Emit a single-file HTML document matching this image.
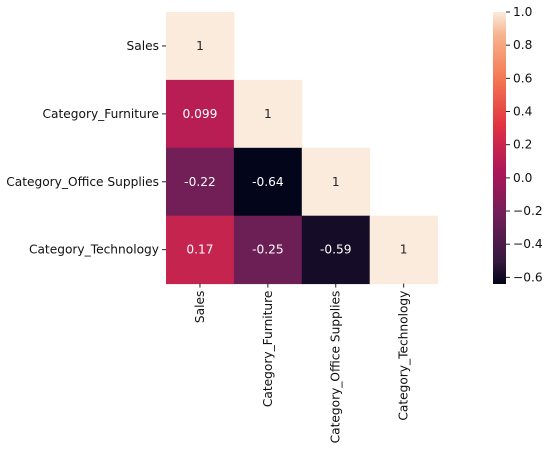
<!DOCTYPE html>
<html><head><meta charset="utf-8"><style>
body{margin:0;background:#fff;}
svg{display:block;font-family:"DejaVu Sans","Liberation Sans",sans-serif;}
</style></head><body>
<svg id="chart" width="549" height="449"></svg>
<script>
const labels=["Sales","Category_Furniture","Category_Office Supplies","Category_Technology"];
const values=[[1],[0.099,1],[-0.22,-0.64,1],[0.17,-0.25,-0.59,1]];
const cbTicks=[1.0,0.8,0.6,0.4,0.2,0.0,-0.2,-0.4,-0.6];
const vmin=-0.64,vmax=1;
const stops=[[0,"#03051a"],[0.083,"#35193e"],[0.25,"#701f57"],[0.417,"#ad1759"],[0.583,"#e13342"],[0.75,"#f37651"],[0.917,"#f6b48f"],[1,"#faebdd"]];
const NS="http://www.w3.org/2000/svg";
const svg=document.getElementById("chart");
const FS="12.2";
function h2r(h){return [1,3,5].map(i=>parseInt(h.substr(i,2),16));}
function cmap(t){t=Math.max(0,Math.min(1,t));for(let i=1;i<stops.length;i++){if(t<=stops[i][0]){const a=stops[i-1],b=stops[i];const f=(t-a[0])/(b[0]-a[0]);const ca=h2r(a[1]),cb=h2r(b[1]);return ca.map((v,k)=>Math.round(v+(cb[k]-v)*f));}}return h2r(stops[stops.length-1][1]);}
function rgb(c){return `rgb(${c[0]},${c[1]},${c[2]})`;}
function el(t,a){const e=document.createElementNS(NS,t);for(const k in a)e.setAttribute(k,a[k]);svg.appendChild(e);return e;}
const x0=166,y0=12,cs=67.9;
const xs=i=>x0+i*cs, ys=i=>y0+i*cs;
values.forEach((row,r)=>row.forEach((v,c)=>{
 const col=cmap((v-vmin)/(vmax-vmin));
 const rect=el("rect",{x:xs(c),y:ys(r),width:cs+0.5,height:cs+0.5,fill:rgb(col)});
 
 
 const lum=(0.2126*col[0]+0.7152*col[1]+0.0722*col[2])/255;
 const t=el("text",{x:xs(c)+cs/2,y:ys(r)+cs/2+4,"text-anchor":"middle","font-size":FS,fill:lum>0.408?"#262626":"#fff"});
 t.textContent=String(v);
 
 
}));
labels.forEach((l,i)=>{
 el("line",{x1:x0-4,x2:x0,y1:ys(i)+cs/2,y2:ys(i)+cs/2,stroke:"#222"});
 const t=el("text",{x:x0-7,y:ys(i)+cs/2+4,"text-anchor":"end","font-size":FS,fill:"#111"});
 t.textContent=l;
 
 
 const bx=xs(i)+cs/2, by=y0+4*cs;
 el("line",{x1:bx,x2:bx,y1:by,y2:by+4,stroke:"#222"});
 const u=el("text",{x:bx+4,y:by+7,"text-anchor":"end","font-size":FS,fill:"#111",transform:`rotate(-90 ${bx+4} ${by+7})`});
 u.textContent=l;
 
 
});
const cbx=493,cby0=12,cby1=284,cbw=13;
const cy=v=>cby1-(v-vmin)/(vmax-vmin)*(cby1-cby0);
const defs=el("defs",{});
const g=document.createElementNS(NS,"linearGradient");g.setAttribute("id","cbg");g.setAttribute("x1","0");g.setAttribute("y1","1");g.setAttribute("x2","0");g.setAttribute("y2","0");defs.appendChild(g);
stops.forEach(s=>{const st=document.createElementNS(NS,"stop");st.setAttribute("offset",s[0]);st.setAttribute("stop-color",s[1]);g.appendChild(st);});
const cb=el("rect",{x:cbx,y:cby0,width:cbw,height:cby1-cby0,fill:"url(#cbg)"});


cbTicks.forEach(v=>{
 const y=cy(v);
 el("line",{x1:cbx+cbw,x2:cbx+cbw+4,y1:y,y2:y,stroke:"#222"});
 const t=el("text",{x:cbx+cbw+7,y:y+4,"font-size":FS,fill:"#111"});
 t.textContent=(v<0?"\u2212":"")+Math.abs(v).toFixed(1);
 
 
});
</script>
</body></html>
